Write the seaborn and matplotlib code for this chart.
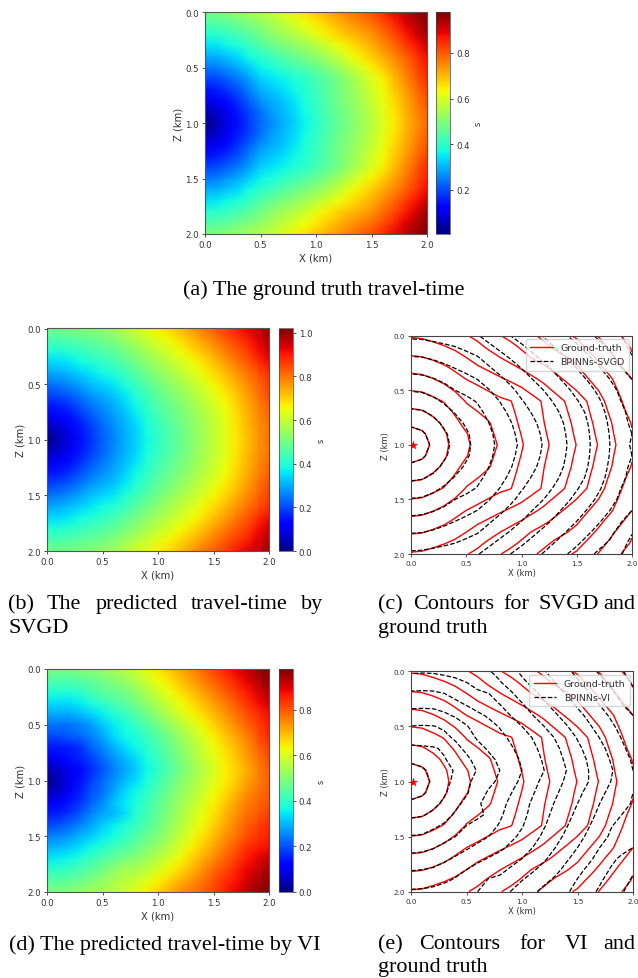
import numpy as np
import seaborn as sns
import matplotlib
matplotlib.use("Agg")
import matplotlib.pyplot as plt
from matplotlib.lines import Line2D

# grid of the travel-time maps (km), one value every 0.1 km
x_km = [i / 10 for i in range(21)]
z_km = [i / 10 for i in range(21)]
km_ticks = [0.0, 0.5, 1.0, 1.5, 2.0]

# values (s), rows from z=0 down to the source at z=1
truth_top = [
    [.488, .493, .508, .522, .540, .556, .576, .605, .636, .660, .684, .710, .736, .762, .788, .810, .848, .885, .925, .960, .980],
    [.440, .444, .458, .476, .496, .518, .544, .570, .597, .622, .650, .678, .704, .730, .752, .775, .812, .850, .893, .933, .967],
    [.392, .397, .412, .430, .452, .480, .512, .535, .558, .585, .616, .645, .672, .695, .716, .740, .776, .815, .860, .905, .952],
    [.342, .348, .364, .385, .412, .440, .466, .490, .513, .537, .564, .595, .624, .655, .682, .710, .746, .782, .824, .870, .916],
    [.292, .298, .316, .340, .372, .400, .420, .445, .468, .490, .512, .545, .576, .615, .648, .680, .716, .750, .788, .835, .880],
    [.242, .248, .268, .292, .326, .362, .382, .403, .426, .444, .468, .500, .532, .570, .606, .642, .680, .722, .766, .815, .864],
    [.192, .198, .220, .245, .280, .325, .344, .362, .384, .398, .424, .455, .488, .525, .564, .605, .644, .695, .744, .795, .848],
    [.144, .152, .178, .210, .250, .295, .318, .338, .364, .389, .417, .450, .483, .518, .552, .592, .632, .680, .728, .778, .826],
    [.096, .107, .136, .175, .220, .265, .292, .315, .345, .380, .410, .445, .478, .510, .540, .580, .620, .665, .712, .760, .805],
    [.050, .068, .107, .150, .195, .235, .277, .305, .335, .370, .402, .437, .471, .503, .534, .571, .612, .655, .704, .750, .794],
    [.005, .048, .095, .142, .186, .228, .262, .295, .326, .360, .394, .430, .464, .496, .528, .562, .604, .645, .696, .740, .784],
]
svgd_top = [
    [.495, .497, .505, .515, .525, .538, .555, .585, .615, .640, .668, .695, .725, .760, .795, .825, .860, .895, .925, .955, 1.00],
    [.445, .448, .458, .468, .480, .497, .515, .545, .575, .602, .630, .660, .690, .722, .755, .790, .825, .858, .890, .935, .980],
    [.395, .398, .410, .425, .440, .456, .475, .505, .535, .565, .595, .625, .655, .687, .720, .755, .790, .825, .860, .910, .955],
    [.345, .350, .362, .380, .400, .418, .440, .470, .500, .530, .560, .590, .620, .652, .685, .720, .757, .793, .830, .875, .920],
    [.295, .300, .315, .335, .360, .380, .400, .430, .465, .497, .530, .560, .590, .622, .655, .690, .725, .762, .800, .840, .880],
    [.245, .250, .268, .292, .320, .340, .360, .395, .430, .465, .500, .530, .560, .592, .625, .660, .695, .735, .775, .815, .860],
    [.195, .200, .222, .250, .280, .300, .325, .362, .400, .437, .475, .505, .535, .567, .600, .635, .670, .712, .755, .800, .845],
    [.145, .152, .175, .210, .245, .272, .300, .338, .375, .415, .455, .485, .515, .547, .580, .615, .650, .695, .740, .782, .825],
    [.096, .107, .136, .175, .215, .250, .280, .318, .355, .395, .435, .468, .500, .533, .567, .603, .640, .685, .730, .773, .815],
    [.050, .068, .107, .148, .190, .230, .268, .305, .342, .383, .423, .457, .490, .525, .560, .597, .633, .678, .723, .765, .800],
    [.000, .047, .095, .140, .180, .225, .262, .300, .335, .375, .415, .450, .485, .520, .555, .595, .630, .675, .720, .765, .810],
]
vi = [
    [.490, .488, .490, .500, .510, .525, .540, .555, .580, .615, .655, .685, .715, .750, .785, .820, .855, .890, .925, .955, .985],
    [.440, .437, .438, .445, .460, .480, .500, .525, .555, .590, .625, .658, .690, .722, .755, .790, .825, .860, .895, .933, .970],
    [.390, .388, .390, .400, .425, .450, .470, .480, .515, .552, .590, .625, .660, .692, .725, .760, .795, .830, .865, .905, .945],
    [.340, .338, .340, .355, .380, .405, .430, .455, .480, .518, .555, .592, .630, .662, .695, .730, .765, .802, .840, .878, .915],
    [.290, .288, .290, .305, .330, .355, .385, .410, .445, .482, .520, .560, .600, .632, .665, .700, .735, .772, .810, .845, .880],
    [.238, .235, .237, .250, .275, .315, .350, .375, .405, .442, .480, .520, .560, .597, .635, .672, .710, .747, .785, .825, .865],
    [.195, .197, .210, .225, .250, .285, .330, .360, .380, .412, .445, .485, .525, .565, .605, .645, .685, .722, .760, .805, .850],
    [.145, .148, .152, .170, .220, .255, .295, .330, .360, .392, .425, .465, .505, .545, .585, .625, .663, .700, .740, .785, .830],
    [.096, .105, .135, .155, .185, .225, .265, .300, .335, .372, .410, .450, .490, .530, .572, .610, .648, .685, .725, .768, .810],
    [.050, .068, .100, .130, .168, .205, .245, .283, .320, .360, .400, .440, .480, .520, .560, .600, .640, .675, .712, .755, .800],
    [.000, .047, .095, .135, .180, .225, .262, .300, .335, .375, .415, .458, .500, .535, .570, .605, .640, .680, .720, .757, .795],
    [.050, .068, .105, .150, .200, .232, .280, .330, .360, .397, .435, .475, .515, .550, .585, .622, .660, .700, .740, .770, .800],
    [.096, .107, .140, .175, .220, .260, .310, .345, .378, .415, .452, .492, .530, .565, .600, .640, .680, .720, .760, .783, .805],
    [.145, .152, .175, .210, .250, .280, .300, .335, .390, .425, .462, .500, .540, .580, .617, .657, .697, .736, .775, .800, .825],
    [.195, .200, .225, .250, .285, .320, .350, .380, .405, .440, .475, .515, .555, .595, .635, .675, .715, .755, .795, .822, .850],
    [.245, .250, .270, .295, .320, .350, .370, .400, .435, .465, .495, .535, .575, .615, .655, .695, .735, .772, .810, .838, .865],
    [.295, .300, .315, .340, .365, .390, .420, .440, .465, .495, .525, .562, .600, .640, .680, .720, .760, .800, .840, .860, .880],
    [.345, .350, .360, .385, .410, .440, .460, .485, .505, .532, .560, .595, .630, .670, .710, .748, .785, .825, .865, .892, .920],
    [.395, .400, .410, .430, .455, .480, .510, .540, .540, .570, .600, .632, .665, .700, .740, .778, .815, .850, .885, .918, .950],
    [.445, .447, .455, .470, .490, .515, .540, .565, .580, .610, .640, .670, .705, .735, .768, .805, .840, .872, .905, .938, .970],
    [.490, .492, .500, .515, .530, .545, .560, .585, .610, .642, .675, .708, .740, .765, .790, .825, .860, .890, .925, .955, .985],
]
# the two smoother maps are the same above and below the source
truth = truth_top + truth_top[-2::-1]
svgd = svgd_top + svgd_top[-2::-1]
contour_levels = [.08, .16, .24, .32, .40, .48, .56, .64, .72, .80, .88, .96]
source_x = [0.02]
source_z = [1.0]

W, H = 638, 979
sns.set_theme(style="ticks", rc={
    "font.family": "DejaVu Sans",
    "axes.linewidth": 0.8,
    "axes.edgecolor": "#444444",
    "text.color": "#333333",
    "axes.labelcolor": "#333333",
    "xtick.color": "#333333",
    "ytick.color": "#333333",
    "xtick.major.size": 2.5,
    "ytick.major.size": 2.5,
    "xtick.major.width": 0.6,
    "ytick.major.width": 0.6,
    "xtick.major.pad": 2,
    "ytick.major.pad": 2,
})
fig = plt.figure(figsize=(W / 100, H / 100), dpi=100)


def box(left, top, right, bottom):
    return fig.add_axes([left / W, 1 - bottom / H, (right - left) / W, (bottom - top) / H])


def travel_map(field, rect, cbar_left, vmin, vmax, cticks):
    ax = box(*rect)
    cax = box(cbar_left, rect[1], cbar_left + 14, rect[3])
    sns.heatmap(field, ax=ax, cbar_ax=cax, cmap="jet", vmin=vmin, vmax=vmax,
                shading="gouraud", xticklabels=False, yticklabels=False,
                cbar_kws={"ticks": cticks})
    step = x_km[1] - x_km[0]
    ax.set_xlim(0, len(x_km) - 1)
    ax.set_ylim(len(z_km) - 1, 0)
    ticks = [t / step for t in km_ticks]
    ax.set_xticks(ticks)
    ax.set_xticklabels([f"{t:.1f}" for t in km_ticks], rotation=0, fontsize=6.2)
    ax.set_yticks(ticks)
    ax.set_yticklabels([f"{t:.1f}" for t in km_ticks], rotation=0, fontsize=6.2)
    ax.set_xlabel("X (km)", fontsize=7.2, labelpad=2)
    ax.set_ylabel("Z (km)", fontsize=7.2, labelpad=1.5)
    ax.tick_params(length=2.5, width=0.6, left=True, bottom=True)
    for s in ax.spines.values():
        s.set_visible(True)
        s.set_linewidth(0.8)
        s.set_color("#555555")
    cax.tick_params(labelsize=6.2, length=2.5, width=0.6, right=True)
    cax.set_ylabel("s", fontsize=6, labelpad=3)
    ax.collections[0].colorbar.outline.set_linewidth(0.5)


def contour_panel(field, rect, name):
    ax = box(*rect)
    ax.contour(x_km, z_km, truth, levels=contour_levels, colors="red", linewidths=1.0)
    ax.contour(x_km, z_km, field, levels=contour_levels, colors="black",
               linewidths=0.9, linestyles="--")
    sns.scatterplot(x=source_x, y=source_z, marker="*", color="red", s=40,
                    edgecolor="red", linewidth=0.3, ax=ax, legend=False)
    ax.set_xlim(0, 2)
    ax.set_ylim(2, 0)
    ax.set_xticks(km_ticks)
    ax.set_xticklabels([f"{t:.1f}" for t in km_ticks], fontsize=5.2)
    ax.set_yticks(km_ticks)
    ax.set_yticklabels([f"{t:.1f}" for t in km_ticks], fontsize=5.2)
    ax.set_xlabel("X (km)", fontsize=6, labelpad=1.5)
    ax.set_ylabel("Z (km)", fontsize=6, labelpad=2)
    handles = [Line2D([], [], color="red", lw=1.0),
               Line2D([], [], color="black", lw=0.9, ls="--")]
    ax.legend(handles, ["Ground-truth", name], loc="upper right", fontsize=6.8,
              borderpad=0.45, labelspacing=0.55, handlelength=2.4, borderaxespad=0.35,
              framealpha=0.8)


travel_map(truth, (205, 13, 427, 235), 436, 0.005, 0.98, [0.2, 0.4, 0.6, 0.8])
travel_map(svgd, (47, 329.5, 269, 552), 278.5, 0.0, 1.02, [0.0, 0.2, 0.4, 0.6, 0.8, 1.0])
travel_map(vi, (47, 670, 269, 893), 278.5, 0.0, 0.98, [0.0, 0.2, 0.4, 0.6, 0.8])
contour_panel(svgd, (411, 336.7, 632, 555), "BPINNs-SVGD")
contour_panel(vi, (411, 672.3, 633, 892.7), "BPINNs-VI")

# captions, word by word where the original is justified
captions = [
    (183, 290, "(a) The ground truth travel-time"),
    (8, 605, "(b)"), (47, 605, "The"), (96, 605, "predicted"), (191, 605, "travel-time"), (301, 605, "by"),
    (8, 629, "SVGD"),
    (378, 605, "(c)"), (413, 605, "Contours"), (503, 605, "for"), (539, 605, "SVGD"), (603, 605, "and"),
    (378, 629, "ground truth"),
    (9, 945, "(d) The predicted travel-time by VI"),
    (378, 945, "(e)"), (419, 945, "Contours"), (519, 945, "for"), (565, 945, "VI"), (603, 945, "and"),
    (378, 968, "ground truth"),
]
for px, py, words in captions:
    fig.text(px / W, 1 - py / H, words, family="Liberation Serif", fontsize=15.9,
             color="black", va="center", ha="left")

fig.savefig("out.png", dpi=100)
